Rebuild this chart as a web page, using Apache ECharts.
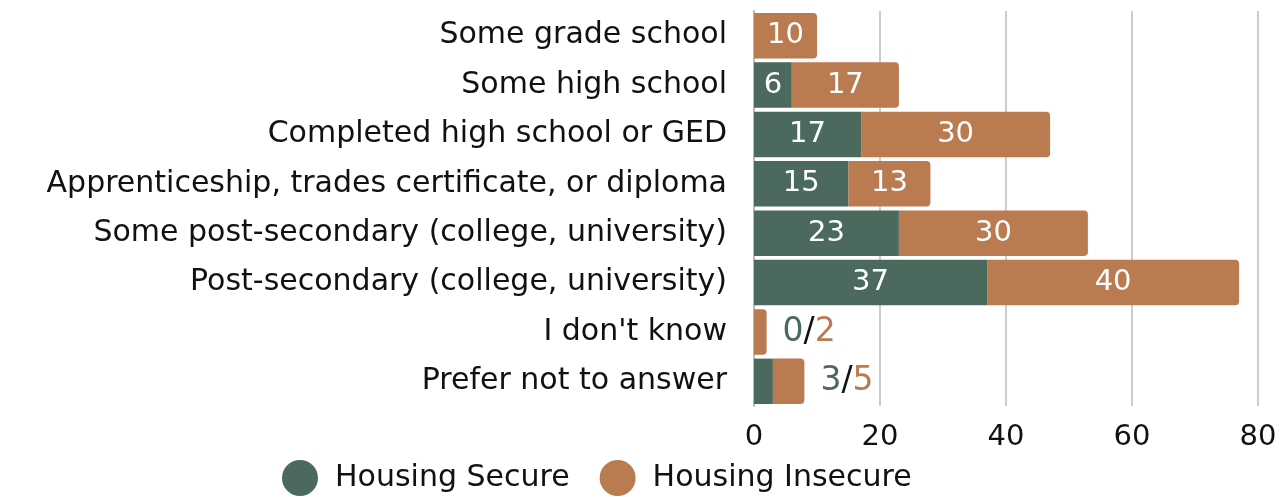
<!DOCTYPE html>
<html>
<head>
<meta charset="utf-8">
<script src="https://cdn.jsdelivr.net/npm/echarts@6/dist/echarts.min.js"></script>
<style>html,body{margin:0;padding:0;background:#fff}#c{width:1282px;height:497px}</style>
</head>
<body>
<div id="c"></div>
<script>
var categories = [
  "Some grade school",
  "Some high school",
  "Completed high school or GED",
  "Apprenticeship, trades certificate, or diploma",
  "Some post-secondary (college, university)",
  "Post-secondary (college, university)",
  "I don't know",
  "Prefer not to answer"
];
var secureValues = [0, 6, 17, 15, 23, 37, 0, 3];
var insecureValues = [10, 17, 30, 13, 30, 40, 2, 5];
var xTicks = [0, 20, 40, 60, 80];

var GREEN = '#4B695C';
var ORANGE = '#BA7B50';
var FONT = '"DejaVu Sans", sans-serif';

function isSmall(i) { return secureValues[i] + insecureValues[i] < 10; }

var chart = echarts.init(document.getElementById('c'), null, {renderer: 'canvas'});
chart.setOption({
  animation: false,
  textStyle: {fontFamily: FONT},
  grid: {left: 754, right: 24, top: 11, bottom: 91, containLabel: false},
  legend: {
    left: 282, top: 460, padding: 0,
    icon: 'circle', itemWidth: 36, itemHeight: 36, itemGap: 30,
    textStyle: {fontSize: 30, color: '#111', fontFamily: FONT, padding: [0, 0, 0, 12]},
    data: ['Housing Secure', 'Housing Insecure']
  },
  xAxis: {
    type: 'value', min: xTicks[0], max: xTicks[xTicks.length - 1], interval: 20,
    axisLine: {show: false}, axisTick: {show: false},
    splitLine: {lineStyle: {color: '#cccccc', width: 2}},
    axisLabel: {fontSize: 29, color: '#111', margin: 17, fontFamily: FONT}
  },
  yAxis: {
    type: 'category', inverse: true, data: categories,
    axisLine: {show: true, lineStyle: {color: '#bbbbbb', width: 2}},
    axisTick: {show: false},
    axisLabel: {fontSize: 30, color: '#111', margin: 27, fontFamily: FONT}
  },
  series: [
    {
      name: 'Housing Secure', type: 'bar', stack: 'a', barCategoryGap: '8%',
      itemStyle: {color: GREEN},
      data: secureValues,
      label: {
        show: true, position: 'inside', color: '#fff', fontSize: 29, fontFamily: FONT,
        formatter: function (p) { return (p.value === 0 || isSmall(p.dataIndex)) ? '' : String(p.value); }
      }
    },
    {
      name: 'Housing Insecure', type: 'bar', stack: 'a', barCategoryGap: '8%',
      itemStyle: {color: ORANGE, borderRadius: [0, 4, 4, 0]},
      data: insecureValues.map(function (v, i) {
        if (isSmall(i)) {
          return {
            value: v,
            label: {
              show: true, position: 'right', distance: 16,
              formatter: '{g|' + secureValues[i] + '}{k|/}{o|' + v + '}',
              rich: {
                g: {color: GREEN, fontSize: 33, fontFamily: FONT},
                k: {color: '#111', fontSize: 33, fontFamily: FONT},
                o: {color: ORANGE, fontSize: 33, fontFamily: FONT}
              }
            }
          };
        }
        return v;
      }),
      label: {
        show: true, position: 'inside', color: '#fff', fontSize: 29, fontFamily: FONT
      }
    }
  ]
});
</script>
</body>
</html>
